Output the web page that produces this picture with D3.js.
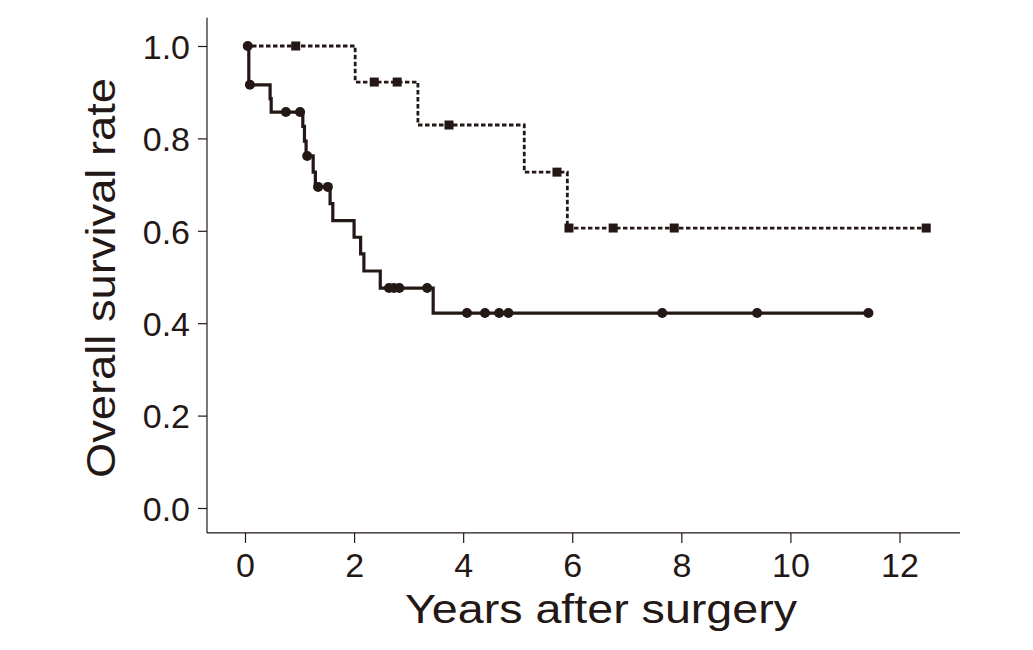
<!DOCTYPE html>
<html><head><meta charset="utf-8">
<script src="https://cdn.jsdelivr.net/npm/d3@7"></script>
<style>
html,body{margin:0;padding:0;background:#fff;}
svg{display:block;}
text{font-family:"Liberation Sans",Arial,sans-serif;fill:#231815;}
</style></head>
<body>
<svg id="chart" width="1033" height="650"></svg>
<script>
// Solid group: step points [time, survival after step]
const solidSteps = [[0,1.0],[0.07,0.916],[0.46,0.886],[0.48,0.857],[1.06,0.826],[1.09,0.794],[1.12,0.762],[1.25,0.727],[1.29,0.695],[1.56,0.659],[1.61,0.622],[2.0,0.586],[2.12,0.55],[2.18,0.513],[2.48,0.476],[3.45,0.422],[11.43,0.422]];
const solidCensored = [[0.05,1.0],[0.09,0.916],[0.75,0.857],[1.01,0.857],[1.14,0.762],[1.34,0.695],[1.52,0.695],[2.64,0.476],[2.73,0.476],[2.83,0.476],[3.34,0.476],[4.07,0.422],[4.40,0.422],[4.66,0.422],[4.83,0.422],[7.65,0.422],[9.39,0.422],[11.43,0.422]];
// Dashed group
const dashedSteps = [[0,1.0],[2.02,0.922],[3.17,0.829],[5.12,0.727],[5.91,0.606],[12.49,0.606]];
const dashedCensored = [[0.93,1.0],[2.37,0.922],[2.79,0.922],[3.74,0.829],[5.72,0.727],[5.94,0.606],[6.75,0.606],[7.87,0.606],[12.49,0.606]];
const xTicks = [0,2,4,6,8,10,12];
const yTicks = [0.0,0.2,0.4,0.6,0.8,1.0];
const xTitle = "Years after surgery";
const yTitle = "Overall survival rate";

const ink = "#231815";
const font = '"Liberation Sans",Arial,sans-serif';
const svg = d3.select("#chart");
const x = d3.scaleLinear().domain([0,12]).range([245,899.5]);
const y = d3.scaleLinear().domain([0,1]).range([508,46]);

// axis lines
svg.append("line").attr("x1",x(-0.697)).attr("x2",x(-0.697)).attr("y1",y(1.061)).attr("y2",y(-0.054))
  .attr("stroke",ink).attr("stroke-width",1.2);
svg.append("line").attr("x1",x(-0.697)).attr("x2",x(13.11)).attr("y1",y(-0.054)).attr("y2",y(-0.054))
  .attr("stroke",ink).attr("stroke-width",1.2);

const yAxis = svg.append("g").attr("transform",`translate(${x(-0.697)},0)`)
  .call(d3.axisLeft(y).tickValues(yTicks).tickFormat(d3.format(".1f")).tickSize(9).tickSizeOuter(0).tickPadding(8));
yAxis.select(".domain").remove();
yAxis.selectAll(".tick line").attr("stroke",ink).attr("stroke-width",1.2);
yAxis.selectAll(".tick text").attr("font-size",34).attr("fill",ink).attr("dy","0.36em")
  .style("font-family",font);

const xAxis = svg.append("g").attr("transform",`translate(0,${y(-0.054)})`)
  .call(d3.axisBottom(x).tickValues(xTicks).tickFormat(d3.format("d")).tickSize(10).tickSizeOuter(0).tickPadding(10));
xAxis.select(".domain").remove();
xAxis.selectAll(".tick line").attr("stroke",ink).attr("stroke-width",1.2);
xAxis.selectAll(".tick text").attr("font-size",34).attr("fill",ink).attr("dy",0)
  .attr("y",44).style("font-family",font);

svg.append("text").attr("x",601).attr("y",623).attr("text-anchor","middle")
  .attr("font-size",40).attr("textLength",392).attr("lengthAdjust","spacingAndGlyphs").text(xTitle);
svg.append("text").attr("transform","translate(115,278) rotate(-90)").attr("text-anchor","middle")
  .attr("font-size",41).attr("textLength",400).attr("lengthAdjust","spacingAndGlyphs").text(yTitle);

const line = d3.line().x(d=>x(d[0])).y(d=>y(d[1])).curve(d3.curveStepAfter);

svg.append("path").attr("d",line(dashedSteps)).attr("fill","none").attr("stroke",ink)
  .attr("stroke-width",2.8).attr("stroke-dasharray","4.5,2.5");
svg.append("path").attr("d",line(solidSteps)).attr("fill","none").attr("stroke",ink)
  .attr("stroke-width",3.2);

const sq = 9;
svg.selectAll("rect.cen").data(dashedCensored).enter().append("rect").attr("class","cen")
  .attr("x",d=>x(d[0])-sq/2).attr("y",d=>y(d[1])-sq/2).attr("width",sq).attr("height",sq).attr("fill",ink);
svg.selectAll("circle.cen").data(solidCensored).enter().append("circle").attr("class","cen")
  .attr("cx",d=>x(d[0])).attr("cy",d=>y(d[1])).attr("r",5).attr("fill",ink);
</script>
</body></html>
